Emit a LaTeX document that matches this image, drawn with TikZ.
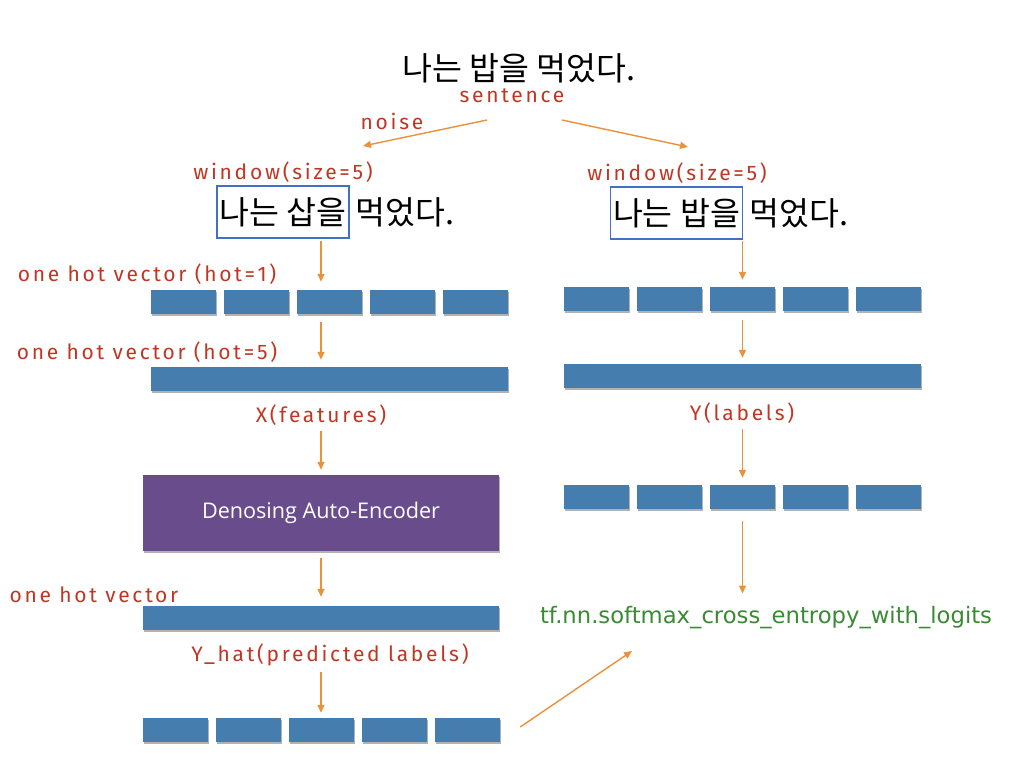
\documentclass[tikz,border=0pt]{standalone}
\usepackage{fontspec}
\setmainfont{Open Sans}
\newfontfamily\kor{Noto Sans CJK KR}
\newfontfamily\hand[LetterSpace=13]{Fira Sans}
\newfontfamily\daef{Open Sans}
\newfontfamily\codef{DejaVu Sans}
\usetikzlibrary{arrows.meta,shadows}
\definecolor{barblue}{RGB}{70,125,175}
\definecolor{handred}{RGB}{192,54,34}
\definecolor{arrorange}{RGB}{232,146,58}
\definecolor{boxblue}{RGB}{66,112,196}
\definecolor{daepurple}{RGB}{104,76,140}
\definecolor{codegreen}{RGB}{58,138,52}
\begin{document}
\begin{tikzpicture}[x=1pt,y=-1pt,
  bar/.style={fill=barblue, draw=none, minimum width=65pt, minimum height=24pt, inner sep=0pt,
    drop shadow={shadow xshift=0.6pt, shadow yshift=-1.6pt, opacity=0.3, fill=black}},
  longbar/.style={bar, minimum width=357pt},
  lab/.style={font=\hand\fontsize{21}{24}\selectfont, text=handred, inner sep=0pt},
  kortext/.style={font=\kor\fontsize{32.5}{38}\selectfont, text=black, inner sep=0pt},
  winbox/.style={kortext, draw=boxblue, line width=1.5pt, minimum height=52pt, inner xsep=2.5pt, inner ysep=0pt},
  arr/.style={draw=arrorange, line width=1.4pt, -{Triangle[length=8pt,width=7pt]}},
  dae/.style={fill=daepurple, minimum width=356pt, minimum height=76pt, inner sep=0pt,
    font=\daef\fontsize{21.6}{26}\selectfont, text=white,
    drop shadow={shadow xshift=0.6pt, shadow yshift=-1.6pt, opacity=0.3, fill=black}},
  code/.style={font=\codef\fontsize{22.7}{27}\selectfont, text=codegreen, inner sep=0pt}
]
\useasboundingbox (0,0) rectangle (1024,768);

% top sentence
\node[kortext] (title) at (519,68) {나는 밥을 먹었다.};
\node[lab] (sent) at (512,96) {sentence};
\node[lab] (noise) at (392,121) {noise};

% left window
\node[lab] (lwin) at (283,172) {window(size=5)};
\node[winbox] (lbox) at (283,212) {나는 삽을};
\node[kortext, anchor=base west] (lrest) at ([xshift=6pt]lbox.base east) {먹었다.};

% right window
\node[lab] (rwin) at (677,173) {window(size=5)};
\node[winbox] (rbox) at (676.5,213) {나는 밥을};
\node[kortext, anchor=base west] (rrest) at ([xshift=6pt]rbox.base east) {먹었다.};

\draw[arr] ([shift={(-25,24)}]sent.center) -- ([shift={(80,-26)}]lwin.center);
\draw[arr] ([shift={(50,24)}]sent.center) -- ([shift={(11,-26)}]rwin.center);

% left column
\node[lab] (oh1) at (147,274) {one hot vector (hot=1)};
\node[bar] (l1a) at (183.5,302) {};
\node[bar] (l1b) at (256.5,302) {};
\node[bar] (l1c) at (329.5,302) {};
\node[bar] (l1d) at (402.5,302) {};
\node[bar] (l1e) at (475.5,302) {};
\node[lab] (oh5) at (147,352) {one hot vector (hot=5)};
\node[longbar] (llong) at (329.5,379) {};
\node[lab] (xfeat) at (321,415) {X(features)};
\node[dae] (dae) at (321,513) {Denosing Auto-Encoder};
\node[lab] (oh) at (94,595) {one hot vector};
\node[longbar, minimum width=356pt] (lpred) at (321,618) {};
\node[lab] (yhat) at (330,655) {Y\_hat(predicted labels)};
\node[bar] (b1) at (175.5,730) {};
\node[bar] (b2) at (248.5,730) {};
\node[bar] (b3) at (321.5,730) {};
\node[bar] (b4) at (394.5,730) {};
\node[bar] (b5) at (467.5,730) {};

\draw[arr, shorten <=2pt, shorten >=8pt] (lbox.south -| dae.north) -- (l1c.north -| dae.north);
\draw[arr, shorten <=8pt, shorten >=7pt] (l1c.south -| dae.north) -- (llong.north -| dae.north);
\draw[arr, shorten <=5pt, shorten >=5pt] (xfeat.south -| dae.north) -- (dae.north);
\draw[arr, shorten <=7pt, shorten >=9pt] (dae.south) -- (lpred.north -| dae.north);
\draw[arr, shorten <=6pt, shorten >=5pt] (yhat.south -| dae.north) -- (b3.north -| dae.north);

% right column
\node[bar] (r1a) at (596.5,299) {};
\node[bar] (r1b) at (669.5,299) {};
\node[bar] (r1c) at (742.5,299) {};
\node[bar] (r1d) at (815.5,299) {};
\node[bar] (r1e) at (888.5,299) {};
\node[longbar] (rlong) at (742.5,376) {};
\node[lab] (ylab) at (742,413) {Y(labels)};
\node[bar] (r2a) at (596.5,497) {};
\node[bar] (r2b) at (669.5,497) {};
\node[bar] (r2c) at (742.5,497) {};
\node[bar] (r2d) at (815.5,497) {};
\node[bar] (r2e) at (888.5,497) {};
\node[code] (loss) at (766,618) {tf.nn.softmax\_cross\_entropy\_with\_logits};

\draw[arr, shorten <=1pt, shorten >=7pt] (rbox.south -| r1c.north) -- (r1c.north);
\draw[arr, shorten <=9pt, shorten >=6pt] (r1c.south) -- (rlong.north -| r1c.north);
\draw[arr, shorten <=5pt, shorten >=7pt] (ylab.south -| r1c.north) -- (r2c.north);
\draw[arr, shorten <=12pt, shorten >=13pt] (r2c.south) -- (loss.north -| r2c.north);

\coordinate (lossin) at (632,651);
\draw[arr] ([shift={(20,-3)}]b5.east) -- (lossin);
\end{tikzpicture}
\end{document}
